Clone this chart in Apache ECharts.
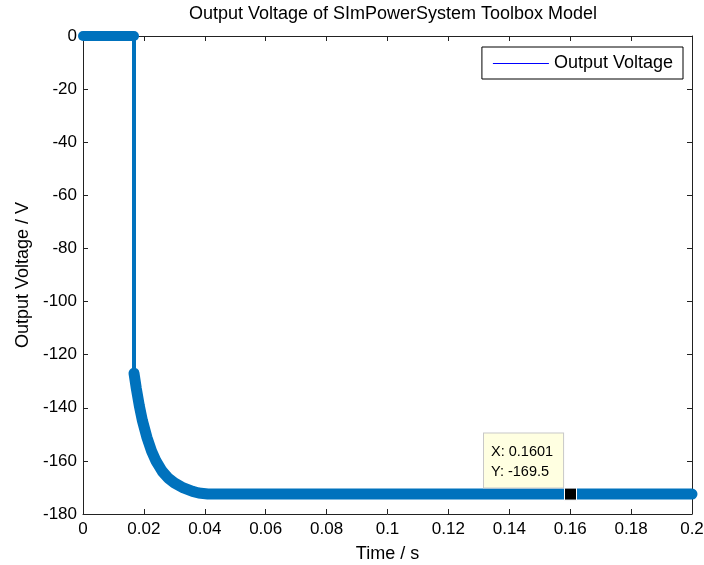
<!DOCTYPE html>
<html>
<head>
<meta charset="utf-8">
<script src="https://cdn.jsdelivr.net/npm/echarts@6/dist/echarts.min.js"></script>
<style>
  html, body { margin: 0; padding: 0; background: #fff; }
  #chart { width: 704px; height: 565px; }
</style>
</head>
<body>
<div id="chart"></div>
<script>
// data
const stepTimes = [0, 0.01675];
const stepVolts = [0, 0];
const dropTimes = [0.01675, 0.01675];
const dropVolts = [0, -127];
const decayTimes = [0.01675, 0.0175, 0.0185, 0.0195, 0.021, 0.0225, 0.024, 0.026, 0.028, 0.030, 0.033, 0.036, 0.038, 0.041, 0.2];
const decayVolts = [-127, -132.7, -139.3, -144.8, -151.2, -156.3, -160.1, -163.9, -166.5, -168.3, -170.2, -171.5, -172.1, -172.5, -172.5];
const tipPoint = [0.1601, -172.5];
const tipText = ['X: 0.1601', 'Y: -169.5'];
const xRange = [0, 0.2, 0.02];
const yRange = [-180, 0, 20];

const font = 'Liberation Sans, Arial, sans-serif';
const axisColor = '#222';
const lineColor = '#0072BD';

function zip(xs, ys) {
  return xs.map((x, i) => [x, ys[i]]);
}

let chart = echarts.init(document.getElementById('chart'));

// matlab style: box on, ticks pointing into the plot on every side
const tickStyle = {show: true, inside: true, length: 5, lineStyle: {color: axisColor, width: 1}};
const lineStyleAxis = {show: true, onZero: false, lineStyle: {color: axisColor}};

let option = {
  animation: false,
  backgroundColor: '#fff',
  title: {
    text: 'Output Voltage of SImPowerSystem Toolbox Model',
    left: 388, top: 0, textAlign: 'center',
    textStyle: {fontFamily: font, fontSize: 18, fontWeight: 'normal', color: '#000'}
  },
  legend: {
    data: [{name: 'Output Voltage', icon: 'rect', itemStyle: {color: '#0000ff'}}],
    right: 21, top: 47,
    orient: 'vertical',
    itemWidth: 56, itemHeight: 1,
    padding: [7.5, 10, 6.5, 11],
    borderColor: '#000', borderWidth: 1, borderRadius: 0,
    backgroundColor: '#fff',
    textStyle: {fontFamily: font, fontSize: 18, color: '#000'}
  },
  grid: {left: 83, right: 12, top: 36, bottom: 51, outerBoundsMode: 'none'},
  xAxis: [
    {
      type: 'value', position: 'bottom',
      min: xRange[0], max: xRange[1], interval: xRange[2],
      name: 'Time / s', nameLocation: 'middle', nameGap: 31,
      nameTextStyle: {fontFamily: font, fontSize: 18, color: '#000'},
      axisLine: lineStyleAxis,
      axisTick: tickStyle,
      axisLabel: {fontFamily: font, fontSize: 17, color: '#000', margin: 7},
      splitLine: {show: false}
    },
    {
      type: 'value', position: 'top',
      min: xRange[0], max: xRange[1], interval: xRange[2],
      axisLine: lineStyleAxis,
      axisTick: tickStyle,
      axisLabel: {show: false},
      splitLine: {show: false}
    }
  ],
  yAxis: [
    {
      type: 'value', position: 'left',
      min: yRange[0], max: yRange[1], interval: yRange[2],
      name: 'Output Voltage / V', nameLocation: 'middle', nameGap: 51,
      nameTextStyle: {fontFamily: font, fontSize: 18, color: '#000'},
      axisLine: lineStyleAxis,
      axisTick: tickStyle,
      axisLabel: {fontFamily: font, fontSize: 17, color: '#000', margin: 6},
      splitLine: {show: false}
    },
    {
      type: 'value', position: 'right',
      min: yRange[0], max: yRange[1], interval: yRange[2],
      axisLine: lineStyleAxis,
      axisTick: tickStyle,
      axisLabel: {show: false},
      splitLine: {show: false}
    }
  ],
  series: [
    {
      name: 'Output Voltage', type: 'line', clip: false,
      data: zip(stepTimes, stepVolts), showSymbol: false,
      lineStyle: {color: lineColor, width: 10, cap: 'round'}
    },
    {
      name: 'Output Voltage', type: 'line', clip: false,
      data: zip(dropTimes, dropVolts), showSymbol: false,
      lineStyle: {color: lineColor, width: 4}
    },
    {
      name: 'Output Voltage', type: 'line', clip: false,
      data: zip(decayTimes, decayVolts), showSymbol: false,
      lineStyle: {color: lineColor, width: 11, cap: 'round', join: 'round'},
      markPoint: {
        symbol: 'rect', symbolSize: 12,
        itemStyle: {color: '#000', borderColor: '#fff', borderWidth: 1},
        data: [{
          coord: tipPoint,
          label: {
            show: true,
            formatter: tipText.join('\n'),
            position: [-80, -54],
            align: 'left', verticalAlign: 'top',
            fontFamily: font, fontSize: 14.5, color: '#000', lineHeight: 20,
            backgroundColor: '#ffffe1', borderColor: '#c8c8c8', borderWidth: 1,
            padding: [8, 10, 6, 7]
          }
        }]
      }
    }
  ]
};
chart.setOption(option);
</script>
</body>
</html>
